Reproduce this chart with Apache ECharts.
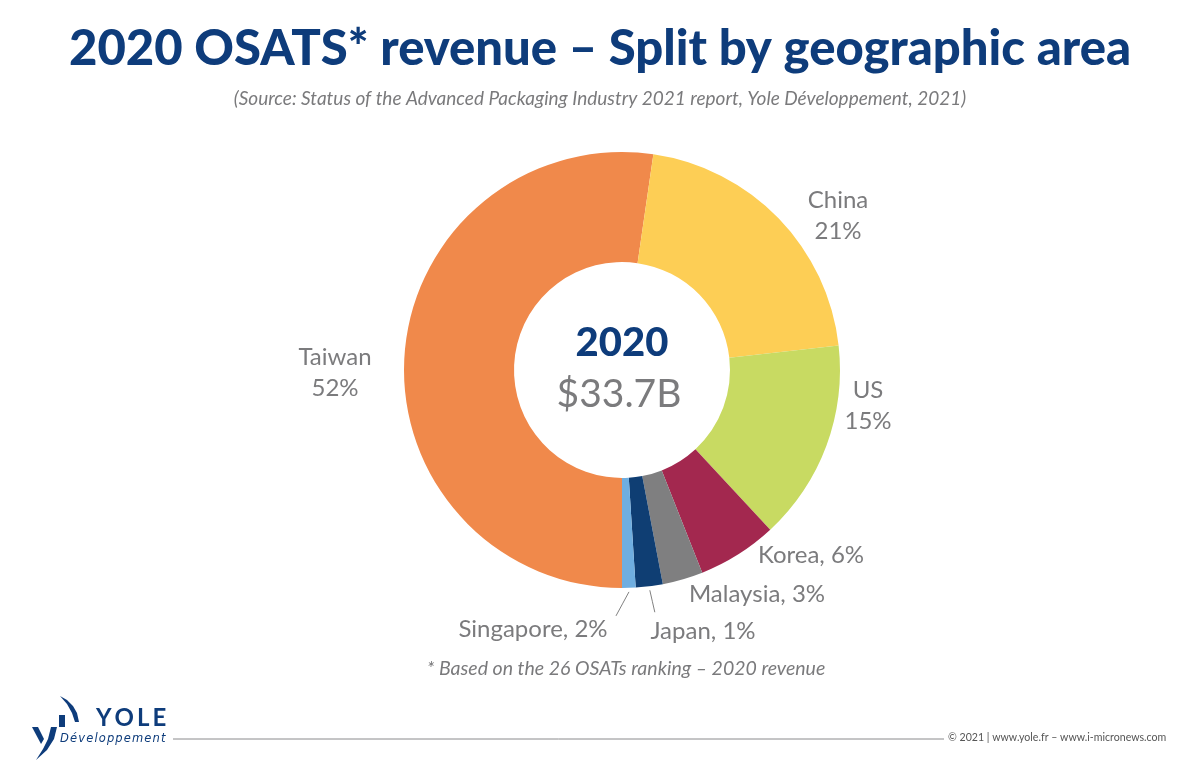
<!DOCTYPE html>
<html><head><meta charset="utf-8">
<script src="https://cdn.jsdelivr.net/npm/echarts@6/dist/echarts.min.js"></script>
<style>html,body{margin:0;padding:0;background:#fff}#c{width:1200px;height:775px}</style>
</head><body><div id="c"></div>
<script>
// Data (clockwise from 6 o'clock)
const categories = ['Taiwan\n52%', 'China\n21%', 'US\n15%', 'Korea, 6%', 'Malaysia, 3%', 'Japan, 1%', 'Singapore, 2%'];
const shares = [52.3, 20.9, 14.9, 5.9, 3.0, 2.0, 1.0];
const colors = ['#F0894B', '#FDCE55', '#C8DA62', '#A3284F', '#7F7F80', '#0F3E73', '#6FAEE0'];
const centerYear = '2020';
const centerTotal = '$33.7B';

// label placement (style)
const CX = 622, CY = 370, R_IN = 108, R_OUT = 218;
const labelPos = [[335, 373], [838, 216], [868, 406], [811, 555], [757, 594], [703, 631], [533, 629]];
const leaderOffset = [null, null, null, null, null, [5, 22], [-13, 24]];

const total = shares.reduce((a, b) => a + b, 0);
function midAngleFromBottom(i) {
  let after = 0;
  for (let j = i + 1; j < shares.length; j++) after += shares[j];
  return (after + shares[i] / 2) / total * 2 * Math.PI;
}
function spaced(s, sp) { return s.split('').join(sp); }

const chart = echarts.init(document.getElementById('c'), null, {renderer: 'canvas'});
const FONT = 'Lato, "Open Sans", sans-serif';
const gray = '#7b7b7d';
const navy = '#0E3C7B';

chart.setOption({
  animation: false,
  title: [
    {text: '2020 OSATS* revenue – Split by geographic area', left: 'center', top: 20,
     textStyle: {fontFamily: FONT, fontWeight: 900, fontSize: 49, color: navy}},
    {text: '(Source: Status of the Advanced Packaging Industry 2021 report, Yole Développement, 2021)', left: 'center', top: 84,
     textStyle: {fontFamily: FONT, fontStyle: 'italic', fontWeight: 'normal', fontSize: 19, color: '#7a7a7c'}}
  ],
  graphic: [
    {type: 'text', x: 622, y: 343, style: {text: centerYear, font: '900 40px ' + FONT, fill: navy, textAlign: 'center', textVerticalAlign: 'middle'}},
    {type: 'text', x: 619, y: 394, style: {text: centerTotal, font: 'normal 39px ' + FONT, fill: gray, textAlign: 'center', textVerticalAlign: 'middle'}},
    {type: 'text', x: 626, y: 669, style: {text: '* Based on the 26 OSATs ranking – 2020 revenue', font: 'italic 19.5px ' + FONT, fill: '#7a7a7c', textAlign: 'center', textVerticalAlign: 'middle'}},
    {type: 'line', shape: {x1: 173, y1: 739, x2: 944, y2: 739}, style: {stroke: '#8a8a8c', lineWidth: 1}},
    {type: 'text', x: 948, y: 738, style: {text: '© 2021 | www.yole.fr – www.i-micronews.com', font: 'normal 10.6px ' + FONT, fill: '#555', textVerticalAlign: 'middle'}},
    {type: 'text', x: 96, y: 718, style: {text: spaced('YOLE', '\u2009'), font: 'bold 24px ' + FONT, fill: navy, textVerticalAlign: 'middle'}},
    {type: 'text', x: 60, y: 739, style: {text: spaced('Développement', '\u200A'), font: 'italic 11.5px "DejaVu Sans", sans-serif', fill: navy, textVerticalAlign: 'middle'}},
    {type: 'polygon', shape: {points: [[32, 727], [38, 727], [44, 739], [41, 744]]}, style: {fill: navy}},
    {type: 'polygon', shape: {points: [[51, 727], [57, 727], [54, 739], [47, 750], [36, 760], [43, 749], [48, 739]]}, style: {fill: navy}},
    {type: 'rect', shape: {x: 59, y: 715, width: 6, height: 12}, style: {fill: navy}},
    {type: 'polygon', shape: {points: [[60, 696], [67, 700], [73, 706], [77, 713], [79, 722], [75, 722], [72, 713], [67, 704]]}, style: {fill: navy}}
  ],
  series: [{
    type: 'pie',
    center: [CX, CY],
    radius: [R_IN, R_OUT],
    startAngle: -90,
    clockwise: true,
    avoidLabelOverlap: false,
    itemStyle: {borderWidth: 0},
    emphasis: {disabled: true},
    label: {
      show: true, position: 'outside', formatter: '{b}', color: gray,
      fontFamily: FONT, fontSize: 24, lineHeight: 31, align: 'center'
    },
    labelLine: {show: false, lineStyle: {color: '#808080', width: 1}},
    labelLayout: function (p) {
      const i = p.dataIndex;
      const pos = labelPos[i];
      const out = {x: pos[0], y: pos[1], align: 'center', verticalAlign: 'middle'};
      if (leaderOffset[i]) {
        const a = midAngleFromBottom(i);
        const r = R_OUT + 4;
        const sx = CX + r * Math.sin(a), sy = CY + r * Math.cos(a);
        out.labelLinePoints = [[sx, sy], [sx + leaderOffset[i][0] / 2, sy + leaderOffset[i][1] / 2], [sx + leaderOffset[i][0], sy + leaderOffset[i][1]]];
      }
      return out;
    },
    data: categories.map((c, i) => ({
      name: c, value: shares[i], itemStyle: {color: colors[i]},
      labelLine: {show: !!leaderOffset[i]}
    }))
  }]
});
</script></body></html>
